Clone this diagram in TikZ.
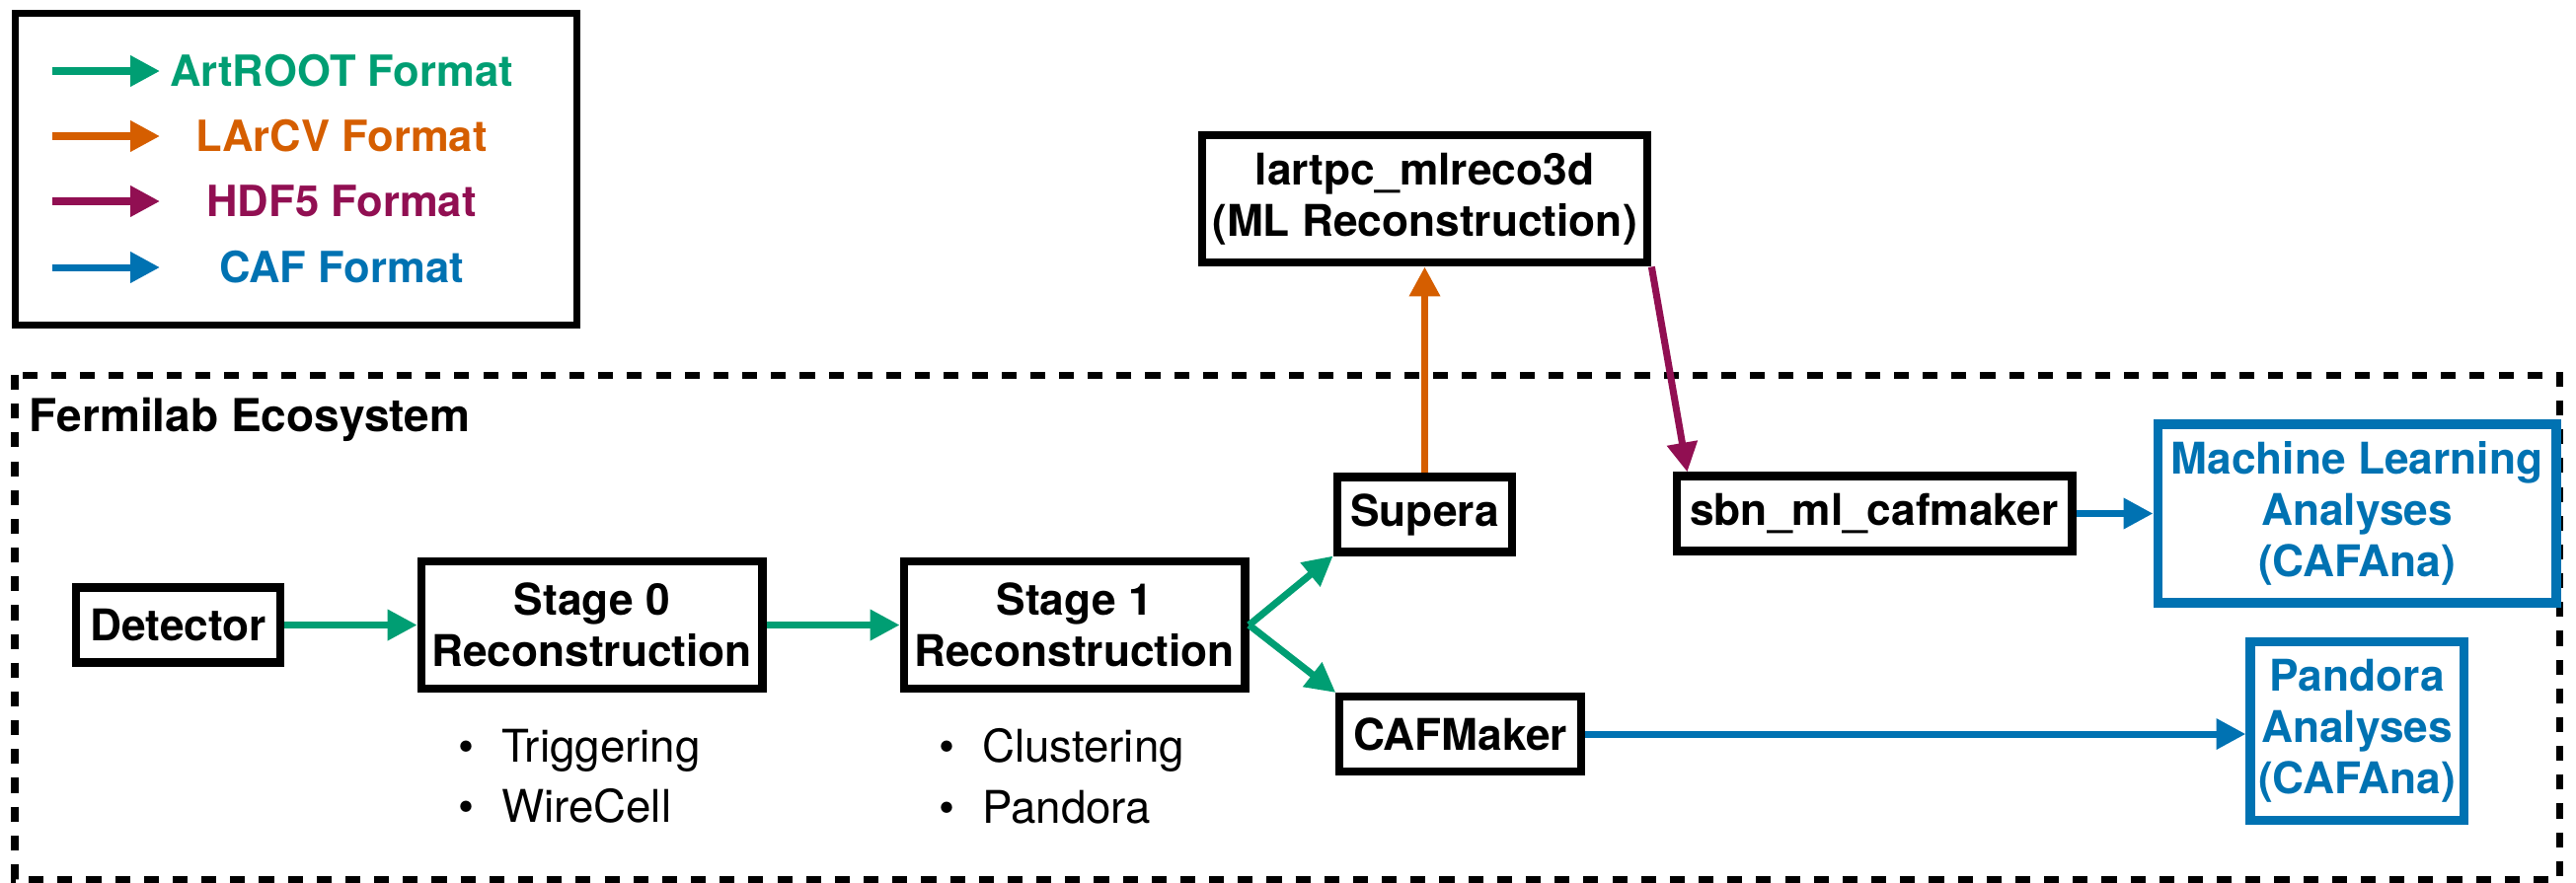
\documentclass[tikz,border=0pt]{standalone}
\usepackage{fontspec}
\setmainfont{TeX Gyre Heros}
\usepackage{tikz}
\usetikzlibrary{positioning}
\usetikzlibrary{arrows.meta}

\definecolor{artgreen}{RGB}{0,158,115}
\definecolor{larcvorange}{RGB}{213,94,0}
\definecolor{hdfpurple}{RGB}{145,15,82}
\definecolor{cafblue}{RGB}{0,114,178}

\begin{document}
\begin{tikzpicture}[>={Triangle[length=8.5pt,width=8.5pt]},node distance=1.35cm,
	font=\fontsize{12.4}{14.7}\selectfont,
	box/.style={draw,line width=2.3pt,font=\fontsize{12.6}{14.7}\selectfont\bfseries,
		align=center,inner xsep=3.9pt,inner ysep=0pt,minimum height=0.76cm},
	tall box/.style={box,inner xsep=3pt,minimum height=1.29cm},
	ana box/.style={box,draw=cafblue,text=cafblue,line width=2.6pt,minimum height=1.81cm},
	flow/.style={->,line width=2pt},
	legend text/.style={font=\fontsize{12.4}{14.7}\selectfont\bfseries},
	bullets/.style={align=left,anchor=north west,inner sep=0pt,
		font=\fontsize{13}{17.6}\selectfont}]
	
	\useasboundingbox (0,0) rectangle (26.10,-8.94);
	
	% legend
	\node[draw,line width=2pt,minimum width=5.69cm,minimum height=3.16cm] (legend) at (3.00,-1.715) {};
	\node[legend text,text=artgreen] (art) at (3.46,-0.72) {ArtROOT Format};
	\node[legend text,text=larcvorange] (larcv) at (3.46,-1.38) {LArCV Format};
	\node[legend text,text=hdfpurple] (hdf) at (3.46,-2.04) {HDF5 Format};
	\node[legend text,text=cafblue] (caf) at (3.46,-2.71) {CAF Format};
	\coordinate (art tail) at (0.53,-0.72);
	\coordinate (art head) at (1.62,-0.72);
	\coordinate (larcv tail) at (0.53,-1.38);
	\coordinate (larcv head) at (1.62,-1.38);
	\coordinate (hdf tail) at (0.53,-2.04);
	\coordinate (hdf head) at (1.62,-2.04);
	\coordinate (caf tail) at (0.53,-2.71);
	\coordinate (caf head) at (1.62,-2.71);
	\draw[flow,artgreen] (art tail) -- (art head);
	\draw[flow,larcvorange] (larcv tail) -- (larcv head);
	\draw[flow,hdfpurple] (hdf tail) -- (hdf head);
	\draw[flow,cafblue] (caf tail) -- (caf head);
	
	% fermilab part
	\draw[line width=2pt,dash pattern=on 4.3pt off 4pt] (0.15,-3.80) rectangle (25.93,-8.91);
	\node[anchor=base west,inner sep=0pt,font=\fontsize{13.1}{15}\selectfont\bfseries] (fermilab) at (0.29,-4.37) {Fermilab Ecosystem};
	
	\node[box] (detector) at (1.805,-6.335) {Detector};
	\node[tall box] (stage0) [right=of detector] {Stage 0\\Reconstruction};
	\node[tall box] (stage1) [right=of stage0] {Stage 1\\Reconstruction};
	\node[box] (supera) at (14.435,-5.215) {Supera};
	\node[box] (cafmaker) at (14.795,-7.44) {CAFMaker};
	\node[tall box] (lartpc) [above=2.09cm of supera] {lartpc\_mlreco3d\\(ML Reconstruction)};
	\node[box] (sbn) at (18.99,-5.205) {sbn\_ml\_cafmaker};
	\node[ana box,minimum width=4.01cm] (mlana) [right=0.78cm of sbn] {Machine Learning\\Analyses\\(CAFAna)};
	\node[ana box,inner xsep=2.3pt] (pandora) [below=0.3cm of mlana] {Pandora\\Analyses\\(CAFAna)};
	
	\node[bullets] (stage0list) at (4.64,-7.38) {\textbullet\hspace{0.6em}Triggering\\\textbullet\hspace{0.6em}WireCell};
	\node[bullets] (stage1list) at (9.51,-7.38) {\textbullet\hspace{0.6em}Clustering\\\textbullet\hspace{0.6em}Pandora};
	
	\path[flow]
	(detector) edge[artgreen] (stage0)
	(stage0) edge[artgreen] (stage1)
	(stage1.east) edge[artgreen] (supera.south west)
	(stage1.east) edge[artgreen] (cafmaker.north west)
	(supera) edge[larcvorange] (lartpc)
	(lartpc.south east) edge[hdfpurple] ([xshift=0.15cm]sbn.north west)
	(sbn) edge[cafblue] (mlana)
	(cafmaker.east) edge[cafblue] (cafmaker.east -| pandora.west);
\end{tikzpicture}
\end{document}
